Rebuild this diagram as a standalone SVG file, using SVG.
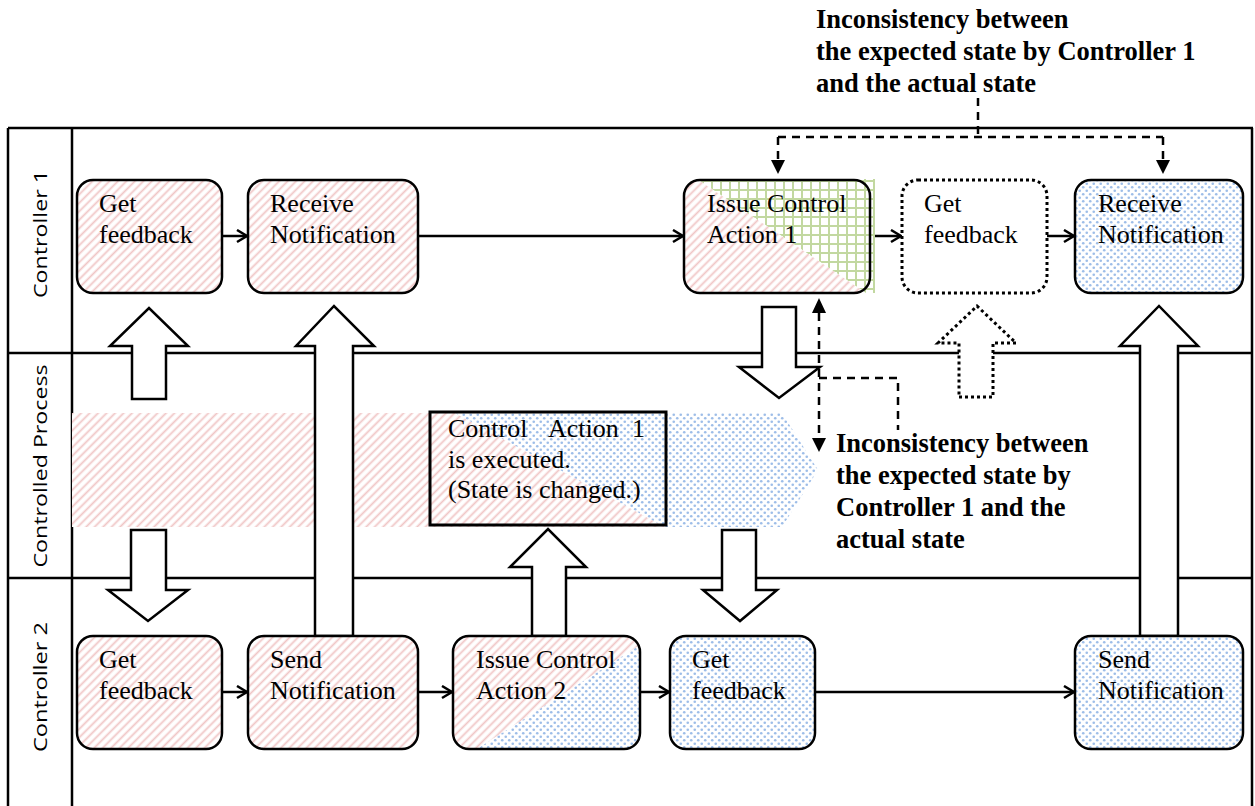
<svg xmlns="http://www.w3.org/2000/svg" width="1255" height="806" viewBox="0 0 1255 806">
<style>
.frame{stroke:#000;stroke-width:2.5;fill:none}
.node{stroke:#000;stroke-width:2.5}
.dotted{stroke:#000;stroke-width:3;stroke-dasharray:3 3}
.t{font-family:"Liberation Serif","Times New Roman",serif;font-size:26px;fill:#000}
.b{font-family:"Liberation Serif","Times New Roman",serif;font-size:26.5px;font-weight:bold;fill:#000}
.lane{font-family:"Open Sans","Noto Sans",sans-serif;font-size:19px;fill:#000}
.conn{stroke:#000;stroke-width:2.5;fill:none}
.dash{stroke:#000;stroke-width:2.5;stroke-dasharray:8 6;fill:none}
.blk{stroke:#000;stroke-width:2.5;fill:#fff;stroke-linejoin:miter}
.blkd{stroke:#000;stroke-width:3;stroke-dasharray:3 3;fill:#fff}
</style>
<defs>
<pattern id="hatch" width="6" height="6" patternUnits="userSpaceOnUse" patternTransform="rotate(45)">
<rect width="6" height="6" fill="#fff"/>
<line x1="1.5" y1="0" x2="1.5" y2="6" stroke="#f0c6c6" stroke-width="1.8"/>
</pattern>
<pattern id="dots" width="7" height="7" patternUnits="userSpaceOnUse">
<rect width="7" height="7" fill="#fff"/>
<circle cx="1.75" cy="1.75" r="1.3" fill="#9dbde8"/>
<circle cx="5.25" cy="5.25" r="1.3" fill="#9dbde8"/>
</pattern>
<pattern id="grid" width="9" height="9" patternUnits="userSpaceOnUse">
<rect width="9" height="9" fill="#fff"/>
<path d="M0,1 H9 M1,0 V9" stroke="#c2d8a0" stroke-width="2"/>
</pattern>
<marker id="open" markerUnits="userSpaceOnUse" markerWidth="14" markerHeight="16" refX="11" refY="7" orient="auto">
<path d="M1,1 L11,7 L1,13" fill="none" stroke="#000" stroke-width="2.5"/>
</marker>
<clipPath id="cICA1"><rect x="684" y="180" width="186" height="113" rx="16"/></clipPath>
<clipPath id="cICA2"><rect x="453" y="636" width="187" height="113" rx="16"/></clipPath>
</defs>

<g id="lanes">
<line class="frame" x1="8" y1="128" x2="1253" y2="128"/>
<line class="frame" x1="8" y1="128" x2="8" y2="806"/>
<line class="frame" x1="1252" y1="128" x2="1252" y2="806"/>
<line class="frame" x1="72" y1="128" x2="72" y2="806"/>
<line class="frame" x1="8" y1="353" x2="1253" y2="353"/>
<line class="frame" x1="8" y1="578" x2="1253" y2="578"/>
<text class="lane" text-anchor="middle" transform="translate(47,234) rotate(-90)" textLength="128" lengthAdjust="spacingAndGlyphs">Controller 1</text>
<text class="lane" text-anchor="middle" transform="translate(47,466) rotate(-90)" textLength="203" lengthAdjust="spacingAndGlyphs">Controlled Process</text>
<text class="lane" text-anchor="middle" transform="translate(47,687) rotate(-90)" textLength="130" lengthAdjust="spacingAndGlyphs">Controller 2</text>
</g>

<g id="process-band">
<polygon points="72,413 455,413 665,527 72,527" fill="url(#hatch)"/>
<polygon points="455,413 782,413 818,470 782,527 665,527" fill="url(#dots)"/>
</g>

<g id="cp-box">
<rect x="430" y="412" width="236" height="113" fill="none" stroke="#000" stroke-width="3"/>
<text class="t" y="437"><tspan x="448">Control</tspan><tspan x="548">Action</tspan><tspan x="632">1</tspan></text>
<text class="t" x="448" y="468">is executed.</text>
<text class="t" x="448" y="498">(State is changed.)</text>
</g>

<g id="connectors">
<line class="conn" x1="222" y1="236" x2="247" y2="236" marker-end="url(#open)"/>
<line class="conn" x1="418" y1="236" x2="683" y2="236" marker-end="url(#open)"/>
<line class="conn" x1="870" y1="236" x2="901" y2="236" marker-end="url(#open)"/>
<line class="conn" x1="1047" y1="236" x2="1074" y2="236" marker-end="url(#open)"/>
<line class="conn" x1="222" y1="692" x2="247" y2="692" marker-end="url(#open)"/>
<line class="conn" x1="418" y1="692" x2="452" y2="692" marker-end="url(#open)"/>
<line class="conn" x1="640" y1="692" x2="669" y2="692" marker-end="url(#open)"/>
<line class="conn" x1="815" y1="692" x2="1074" y2="692" marker-end="url(#open)"/>

<path class="blk" d="M132,399 L166,399 L166,346 L188,346 L149,308 L110,346 L132,346 Z"/>
<path class="blk" d="M315,636 L353,636 L353,346 L374,346 L334,306 L296,346 L315,346 Z"/>
<path class="blk" d="M131,530 L166,530 L166,590 L188,590 L148,621 L108,590 L131,590 Z"/>
<path class="blk" d="M532,636 L566,636 L566,567 L586,567 L548,529 L510,567 L532,567 Z"/>
<path class="blk" d="M722,530 L756,530 L756,590 L777,590 L740,621 L703,590 L722,590 Z"/>
<path class="blk" d="M762,307 L796,307 L796,367 L820,367 L779,398 L739,367 L762,367 Z"/>
<path class="blkd" d="M959,397 L993,397 L993,343 L1016,343 L977,306 L938,343 L959,343 Z"/>
<path class="blk" d="M1140,636 L1178,636 L1178,346 L1198,346 L1159,306 L1120,346 L1140,346 Z"/>

<path class="dash" d="M978,98 V137 M778,137 H1163 M778,137 V160 M1163,137 V160"/>
<polygon points="771,160 785,160 778,174" fill="#000"/>
<polygon points="1156,160 1170,160 1163,174" fill="#000"/>
<path class="dash" d="M819,313 V438 M819,378 H898 V430"/>
<polygon points="812,313 826,313 819,298" fill="#000"/>
<polygon points="812,438 826,438 819,452" fill="#000"/>
</g>

<g id="c1-get-feedback">
<rect class="node" x="77" y="180" width="145" height="113" rx="16" fill="url(#hatch)"/>
<text class="t" x="99" y="212">Get</text>
<text class="t" x="99" y="243">feedback</text>
</g>
<g id="c1-receive-notification">
<rect class="node" x="248" y="180" width="170" height="113" rx="16" fill="url(#hatch)"/>
<text class="t" x="270" y="212">Receive</text>
<text class="t" x="270" y="243">Notification</text>
</g>
<g id="c1-issue-control-action-1">
<polygon points="697,179 875,179 875,293 866,293" fill="url(#grid)"/>
<polygon points="684,179 697,179 866,293 684,293" fill="url(#hatch)" clip-path="url(#cICA1)"/>
<rect class="node" x="684" y="180" width="186" height="113" rx="16" fill="none"/>
<text class="t" x="707" y="212">Issue Control</text>
<text class="t" x="707" y="243">Action 1</text>
</g>
<g id="c1-get-feedback-2">
<rect class="dotted" x="902" y="180" width="145" height="113" rx="16" fill="#fff"/>
<text class="t" x="924" y="212">Get</text>
<text class="t" x="924" y="243">feedback</text>
</g>
<g id="c1-receive-notification-2">
<rect class="node" x="1075" y="180" width="168" height="113" rx="16" fill="url(#dots)"/>
<text class="t" x="1098" y="212">Receive</text>
<text class="t" x="1098" y="243">Notification</text>
</g>

<g id="c2-get-feedback">
<rect class="node" x="77" y="636" width="145" height="113" rx="16" fill="url(#hatch)"/>
<text class="t" x="99" y="668">Get</text>
<text class="t" x="99" y="699">feedback</text>
</g>
<g id="c2-send-notification">
<rect class="node" x="248" y="636" width="170" height="113" rx="16" fill="url(#hatch)"/>
<text class="t" x="270" y="668">Send</text>
<text class="t" x="270" y="699">Notification</text>
</g>
<g id="c2-issue-control-action-2">
<g clip-path="url(#cICA2)">
<polygon points="453,636 640,636 640,645 477,749 453,749" fill="url(#hatch)"/>
<polygon points="640,645 640,749 477,749" fill="url(#dots)"/>
</g>
<rect class="node" x="453" y="636" width="187" height="113" rx="16" fill="none"/>
<text class="t" x="476" y="668">Issue Control</text>
<text class="t" x="476" y="699">Action 2</text>
</g>
<g id="c2-get-feedback-2">
<rect class="node" x="670" y="636" width="145" height="113" rx="16" fill="url(#dots)"/>
<text class="t" x="692" y="668">Get</text>
<text class="t" x="692" y="699">feedback</text>
</g>
<g id="c2-send-notification-2">
<rect class="node" x="1075" y="636" width="168" height="113" rx="16" fill="url(#dots)"/>
<text class="t" x="1098" y="668">Send</text>
<text class="t" x="1098" y="699">Notification</text>
</g>

<g id="note-top">
<text class="b" x="816" y="28">Inconsistency between</text>
<text class="b" x="816" y="60">the expected state by Controller 1</text>
<text class="b" x="816" y="92">and the actual state</text>
</g>
<g id="note-middle">
<text class="b" x="836" y="452">Inconsistency between</text>
<text class="b" x="836" y="484">the expected state by</text>
<text class="b" x="836" y="516">Controller 1 and the</text>
<text class="b" x="836" y="548">actual state</text>
</g>
</svg>
